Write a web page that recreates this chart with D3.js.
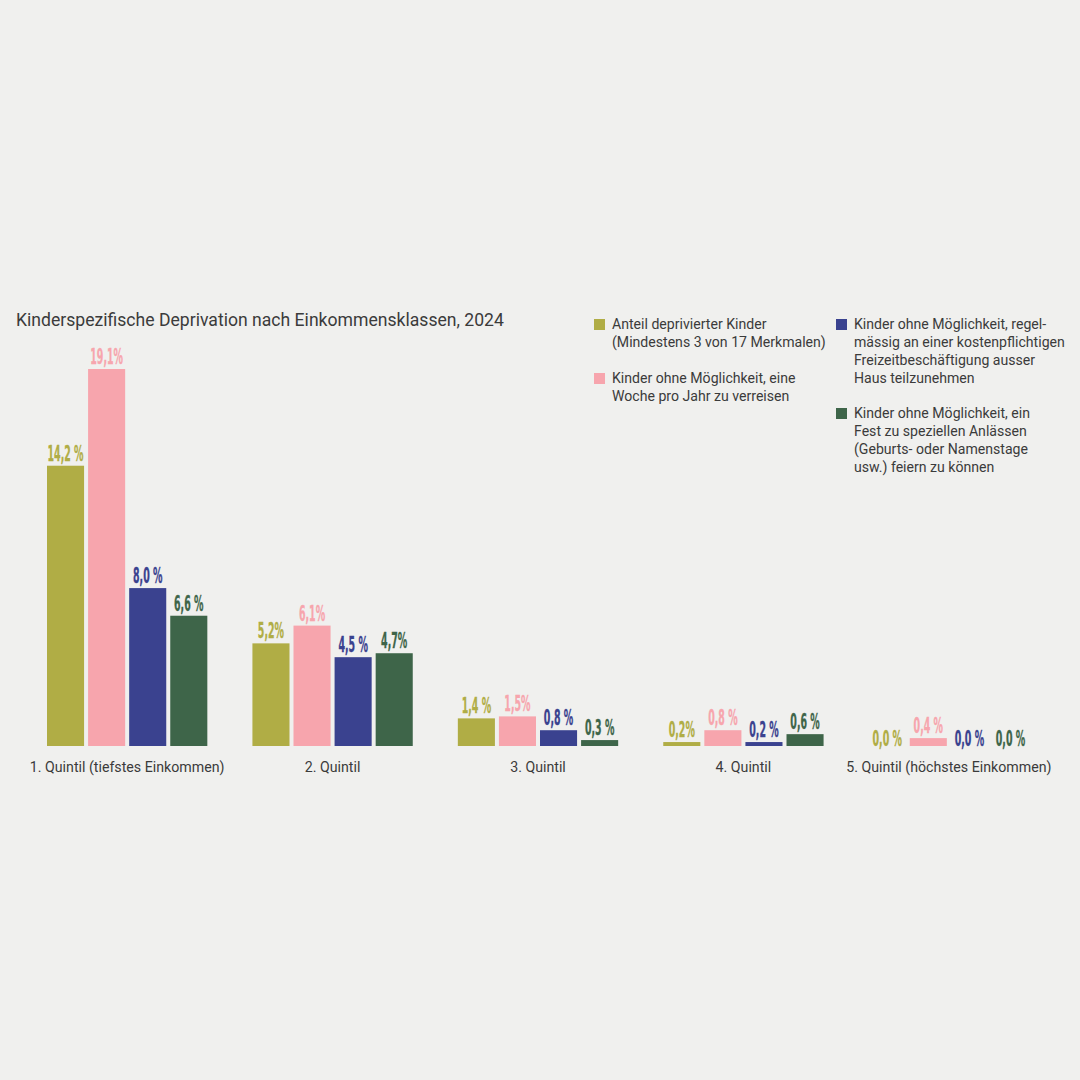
<!DOCTYPE html>
<html>
<head>
<meta charset="utf-8">
<script src="https://cdn.jsdelivr.net/npm/d3@7"></script>
<style>
  html, body { margin: 0; padding: 0; background: #f0f0ee; }
  svg { display: block; }
</style>
</head>
<body>
<div id="chart"></div>
<script>
// data
const quintiles = [
  "1. Quintil (tiefstes Einkommen)",
  "2. Quintil",
  "3. Quintil",
  "4. Quintil",
  "5. Quintil (höchstes Einkommen)"
];
const seriesKeys = ["anteil", "verreisen", "freizeit", "fest"];
const anteilValues    = [14.2, 5.2, 1.4, 0.2, 0.0];
const verreisenValues = [19.1, 6.1, 1.5, 0.8, 0.4];
const freizeitValues  = [8.0, 4.5, 0.8, 0.2, 0.0];
const festValues      = [6.6, 4.7, 0.3, 0.6, 0.0];
const anteilLabels    = ["14,2 %", "5,2%", "1,4 %", "0,2%", "0,0 %"];
const verreisenLabels = ["19,1%", "6,1%", "1,5%", "0,8 %", "0,4 %"];
const freizeitLabels  = ["8,0 %", "4,5 %", "0,8 %", "0,2 %", "0,0 %"];
const festLabels      = ["6,6 %", "4,7%", "0,3 %", "0,6 %", "0,0 %"];
const legendLines = [
  ["Anteil deprivierter Kinder", "(Mindestens 3 von 17 Merkmalen)"],
  ["Kinder ohne Möglichkeit, eine", "Woche pro Jahr zu verreisen"],
  ["Kinder ohne Möglichkeit, regel-", "mässig an einer kostenpflichtigen", "Freizeitbeschäftigung ausser", "Haus teilzunehmen"],
  ["Kinder ohne Möglichkeit, ein", "Fest zu speziellen Anlässen", "(Geburts- oder Namenstage", "usw.) feiern zu können"]
];
const title = "Kinderspezifische Deprivation nach Einkommensklassen, 2024";

const colors = { anteil: "#b0ad45", verreisen: "#f7a5ad", freizeit: "#3a428f", fest: "#3e6549" };
const valueByKey = { anteil: anteilValues, verreisen: verreisenValues, freizeit: freizeitValues, fest: festValues };
const labelByKey = { anteil: anteilLabels, verreisen: verreisenLabels, freizeit: freizeitLabels, fest: festLabels };

const data = quintiles.map((q, i) => ({
  quintil: q,
  bars: seriesKeys.map(k => ({ key: k, value: valueByKey[k][i], label: labelByKey[k][i] }))
}));

const W = 1080, H = 1080;
const baseline = 746;
const textFont = "Roboto, 'Noto Sans', sans-serif";
const textColor = "#3b3b3b";

const svg = d3.select("#chart")
  .append("svg")
  .attr("width", W)
  .attr("height", H);

svg.append("rect")
  .attr("width", W).attr("height", H)
  .attr("fill", "#f0f0ee");

// scales
const x0 = d3.scaleBand()
  .domain(quintiles)
  .range([47, 1029])
  .paddingInner(45 / 205)
  .paddingOuter(0);

const x1 = d3.scaleBand()
  .domain(seriesKeys)
  .range([0, x0.bandwidth()])
  .paddingInner(4 / 41)
  .paddingOuter(0);

const y = d3.scaleLinear()
  .domain([0, 19.1])
  .range([baseline, 369]);

// title
svg.append("text")
  .attr("x", 16)
  .attr("y", 326)
  .attr("font-family", textFont)
  .attr("font-size", 17.6)
  .attr("fill", textColor)
  .text(title);

// bars
const groups = svg.selectAll("g.group")
  .data(data)
  .join("g")
  .attr("class", "group")
  .attr("transform", d => `translate(${x0(d.quintil)},0)`);

groups.selectAll("rect")
  .data(d => d.bars)
  .join("rect")
  .attr("x", d => x1(d.key))
  .attr("y", d => y(d.value))
  .attr("width", x1.bandwidth())
  .attr("height", d => y(0) - y(d.value))
  .attr("fill", d => colors[d.key]);

// value labels (squeezed to get the condensed look)
groups.selectAll("text.val")
  .data(d => d.bars)
  .join("text")
  .attr("class", "val")
  .attr("transform", d => {
    const ly = d.value > 0 ? y(d.value) - 5 : y(0);
    return `translate(${x1(d.key) + x1.bandwidth() / 2},${ly}) scale(0.5,1)`;
  })
  .attr("text-anchor", "middle")
  .attr("font-family", "'DejaVu Sans Condensed', 'DejaVu Sans', sans-serif")
  .attr("font-weight", "bold")
  .attr("font-size", 21)
  .attr("fill", d => colors[d.key])
  .attr("stroke", d => colors[d.key])
  .attr("stroke-width", 0.3)
  .text(d => d.label);

// category axis labels
const xAxis = svg.append("g")
  .attr("transform", `translate(0,${baseline})`)
  .call(d3.axisBottom(x0).tickSize(0).tickPadding(0));
xAxis.select(".domain").remove();
xAxis.selectAll("text")
  .attr("y", 26)
  .attr("dy", null)
  .attr("font-family", textFont)
  .attr("font-size", 14.2)
  .attr("fill", textColor);

// legend
const legendPos = [
  { x: 594, y: 329 },
  { x: 594, y: 383 },
  { x: 836, y: 329 },
  { x: 836, y: 418 }
];
const legend = svg.selectAll("g.legend")
  .data(seriesKeys)
  .join("g")
  .attr("class", "legend")
  .attr("transform", (d, i) => `translate(${legendPos[i].x},${legendPos[i].y})`);

legend.append("rect")
  .attr("x", 0)
  .attr("y", -10)
  .attr("width", 11)
  .attr("height", 11)
  .attr("fill", d => colors[d]);

legend.append("text")
  .attr("font-family", textFont)
  .attr("font-size", 14.1)
  .attr("fill", textColor)
  .selectAll("tspan")
  .data((d, i) => legendLines[i])
  .join("tspan")
  .attr("x", 18)
  .attr("y", (d, i) => i * 18)
  .text(d => d);
</script>
</body>
</html>
